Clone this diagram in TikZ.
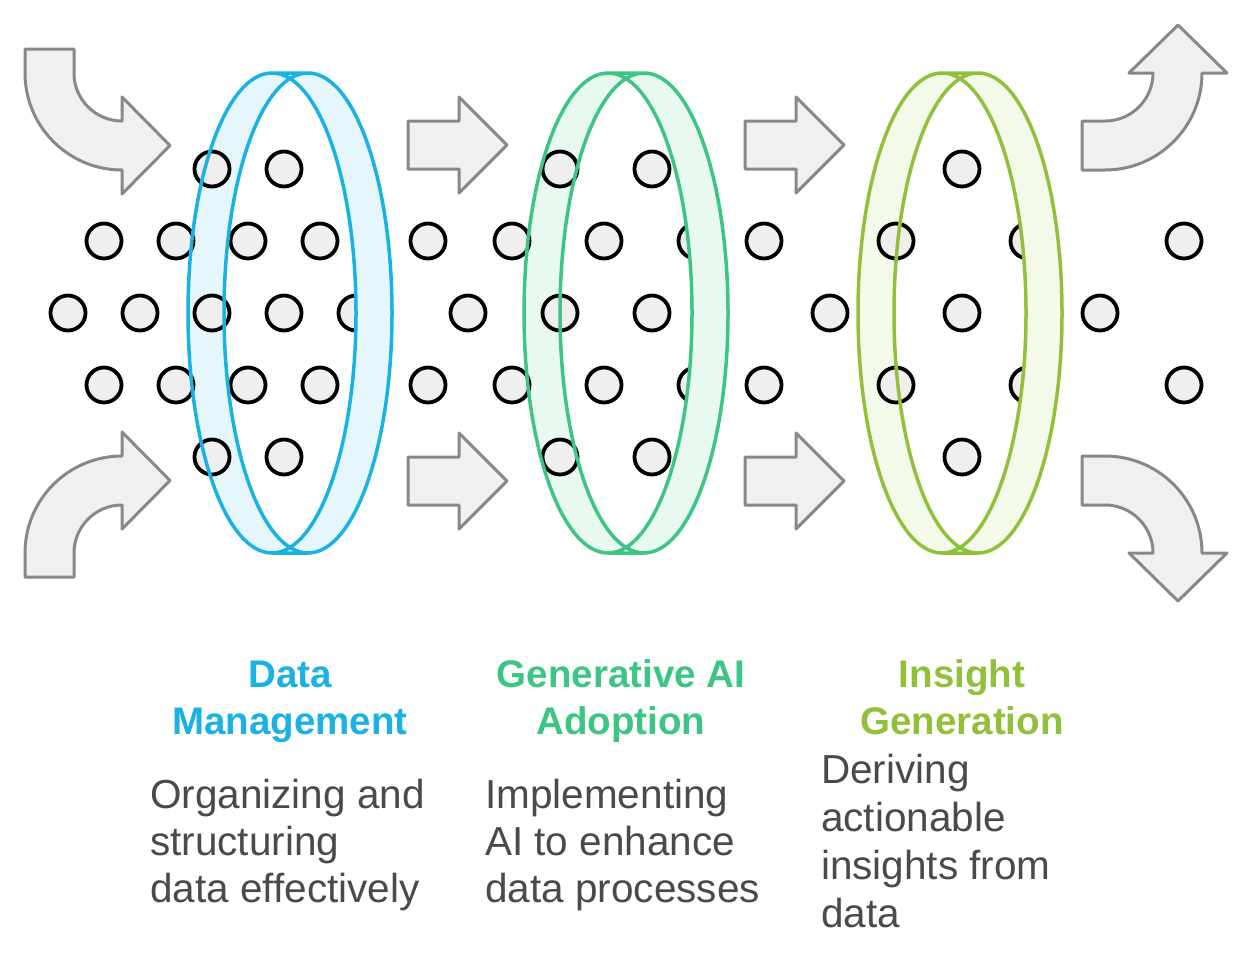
\documentclass[tikz,border=0pt]{standalone}
\usepackage{fontspec}
\setmainfont{Liberation Sans}
\definecolor{ringA}{HTML}{1AB1E3}
\definecolor{fillA}{HTML}{E5F7FD}
\definecolor{ringB}{HTML}{3CC583}
\definecolor{fillB}{HTML}{E8F9F0}
\definecolor{ringC}{HTML}{91C13B}
\definecolor{fillC}{HTML}{F3FAEA}
\definecolor{arrowline}{HTML}{888888}
\definecolor{arrowfill}{HTML}{F0F0F0}
\definecolor{dotfill}{HTML}{EFEFEF}
\definecolor{bodytext}{HTML}{4A4A4A}
\newcommand\ringfill[4]{% ax, bx, mid, fill
  \fill[#4] (#1,313) ellipse[x radius=84,y radius=240];
  \fill[#4] (#2,313) ellipse[x radius=84,y radius=240];
  \fill[#4] (#1,73) rectangle (#2,553);
  \begin{scope}
    \clip (#1,313) ellipse[x radius=84,y radius=240];
    \fill[white] (#2,313) ellipse[x radius=84,y radius=240];
  \end{scope}}
\newcommand\ringfront[5]{% ax, bx, mid, fill, line
  \begin{scope}
    \clip (#3,0) rectangle (1252,962);
    \fill[#4,even odd rule] (#2,313) ellipse[x radius=84,y radius=240]
      (#1,313) ellipse[x radius=84,y radius=240];
  \end{scope}
  \draw[#5,line width=3.5pt] (#1,313) ellipse[x radius=84,y radius=240]
    (#2,313) ellipse[x radius=84,y radius=240]
    (#1,73) -- (#2,73) (#1,553) -- (#2,553);}
\begin{document}
\begin{tikzpicture}[x=1pt,y=-1pt,
  dotnode/.style={circle,draw=black,fill=dotfill,line width=3.8pt,minimum size=35pt,inner sep=0pt},
  arrowshape/.style={draw=arrowline,fill=arrowfill,line width=3pt,line join=round},
  ttl/.style={anchor=base,inner sep=0pt,font=\fontsize{38.5}{47}\selectfont\bfseries},
  body/.style={anchor=base west,inner sep=0pt,text=bodytext,font=\fontsize{40.5}{48}\selectfont}]
\useasboundingbox (0,0) rectangle (1252,962);
\fill[white] (0,0) rectangle (1252,962);

% ring fills (back)
\ringfill{272}{308}{290}{fillA}
\ringfill{608}{644}{626}{fillB}
\ringfill{942}{978}{960}{fillC}

% dots
\foreach \x [count=\i] in {212,284,560,652,962} {
  \node[dotnode] (ra-\i) at (\x,169) {};
  \node[dotnode] (re-\i) at (\x,457) {};}
\foreach \x [count=\i] in {104,176,248,320,428,512,604,696,764,896,1028,1184} {
  \node[dotnode] (rb-\i) at (\x,241) {};
  \node[dotnode] (rd-\i) at (\x,385) {};}
\foreach \x [count=\i] in {68,140,212,284,356,468,560,652,830,962,1100} {
  \node[dotnode] (rc-\i) at (\x,313) {};}

% ring fronts
\ringfront{272}{308}{290}{fillA}{ringA}
\ringfront{608}{644}{626}{fillB}{ringB}
\ringfront{942}{978}{960}{fillC}{ringC}

% straight arrows
\foreach \dx/\dy in {0/0,337/0,0/336,337/336} {
  \draw[arrowshape,shift={(\dx,\dy)}] (408,121) -- (459,121) -- (459,97) -- (507,145)
    -- (459,193) -- (459,169) -- (408,169) -- cycle;}

% curved arrows
\draw[arrowshape] (25,49) -- (74,49) -- (74,73) .. controls (74,99.5) and (95.5,121) .. (122,121)
  -- (122,97) -- (170,145.5) -- (122,194) -- (122,170) .. controls (68.4,170) and (25,126.6) .. (25,73) -- cycle;
\draw[arrowshape] (25,577) -- (74,577) -- (74,553) .. controls (74,526.5) and (95.5,505) .. (122,505)
  -- (122,529) -- (170,480.5) -- (122,432) -- (122,456) .. controls (68.4,456) and (25,499.4) .. (25,553) -- cycle;
\draw[arrowshape] (1082,121) -- (1105,121) .. controls (1131.5,121) and (1153,99.5) .. (1153,73)
  -- (1129,73) -- (1178,25) -- (1227,73) -- (1202,73) .. controls (1202,126.6) and (1158.6,170) .. (1105,170)
  -- (1082,170) -- cycle;
\draw[arrowshape] (1082,505) -- (1105,505) .. controls (1131.5,505) and (1153,526.5) .. (1153,553)
  -- (1129,553) -- (1178,601) -- (1227,553) -- (1202,553) .. controls (1202,499.4) and (1158.6,456) .. (1105,456)
  -- (1082,456) -- cycle;

% titles
\node[ttl,text=ringA] (t1a) at (290,687) {Data};
\node[ttl,text=ringA] (t1b) at (290,734) {Management};
\node[ttl,text=ringB] (t2a) at (621,687) {Generative AI};
\node[ttl,text=ringB] (t2b) at (621,734) {Adoption};
\node[ttl,text=ringC] (t3a) at (962,687) {Insight};
\node[ttl,text=ringC] (t3b) at (962,734) {Generation};

% bodies
\node[body] (b1a) at (150,808) {Organizing and};
\node[body] (b1b) at (150,855) {structuring};
\node[body] (b1c) at (150,902) {data effectively};
\node[body] (b2a) at (485,808) {Implementing};
\node[body] (b2b) at (485,855) {AI to enhance};
\node[body] (b2c) at (485,902) {data processes};
\node[body] (b3a) at (821,783) {Deriving};
\node[body] (b3b) at (821,831) {actionable};
\node[body] (b3c) at (821,879) {insights from};
\node[body] (b3d) at (821,927) {data};
\end{tikzpicture}
\end{document}
